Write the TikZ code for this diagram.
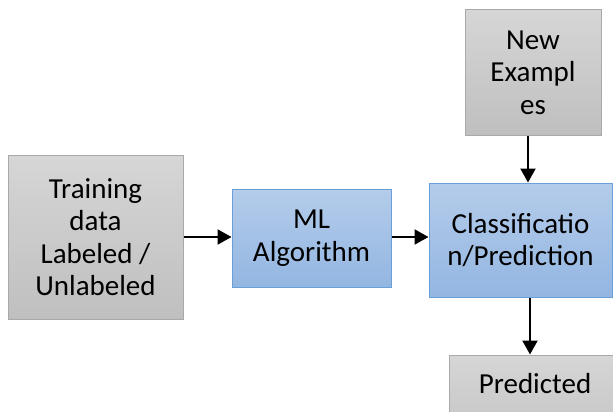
\documentclass[tikz,border=0pt]{standalone}
\usepackage{fontspec}
\setmainfont{Carlito}
\usetikzlibrary{arrows.meta,calc}
\definecolor{greyTop}{HTML}{D6D6D6}
\definecolor{greyBot}{HTML}{BFBFBF}
\definecolor{greyEdge}{HTML}{A9A9A9}
\definecolor{blueTop}{HTML}{B4CCEA}
\definecolor{blueBot}{HTML}{93B6E2}
\definecolor{blueEdge}{HTML}{6A9FDA}
\tikzset{
  box/.style={draw, line width=1pt, align=center, inner sep=0pt,
    font=\fontsize{29}{32.5}\selectfont, text=black},
  greybox/.style={box, draw=greyEdge, top color=greyTop, bottom color=greyBot},
  bluebox/.style={box, draw=blueEdge, top color=blueTop, bottom color=blueBot},
  flow/.style={line width=2.2pt, -{Triangle[length=14pt,width=15pt]}}
}
\begin{document}
\begin{tikzpicture}[x=1pt,y=-1pt]
  \clip (0,0) rectangle (613,412);
  \useasboundingbox (0,0) rectangle (613,412);
  \fill[white] (0,0) rectangle (613,412);
  \node[greybox, minimum width=175pt, minimum height=164pt] (train) at (95.5,237) {Training\\data\\Labeled /\\Unlabeled};
  \node[bluebox, minimum width=159pt, minimum height=98pt] (ml) at (311.5,238) {ML\\Algorithm};
  \node[bluebox, minimum width=183pt, minimum height=114pt] (cls) at (520.5,240) {Classificatio\\n/Prediction};
  \node[greybox, minimum width=136pt, minimum height=125pt] (new) at (533,72.5) {New\\Exampl\\es};
  \node[greybox, minimum width=172pt, minimum height=110pt] (pred) at (535,410) {};
  \node[font=\fontsize{29}{32.5}\selectfont, inner sep=0pt] (predtxt) at (535,384) {Predicted};
  \draw[flow] (train.east) -- (train.east -| ml.west);
  \draw[flow] (ml.east |- train.east) -- (train.east -| cls.west);
  \draw[flow] ([xshift=-5pt]new.south) -- ([xshift=-5pt]new.south |- cls.north);
  \draw[flow] ([xshift=-5pt]predtxt.north |- cls.south) -- ([xshift=-5pt]predtxt.north |- pred.north);
\end{tikzpicture}
\end{document}
